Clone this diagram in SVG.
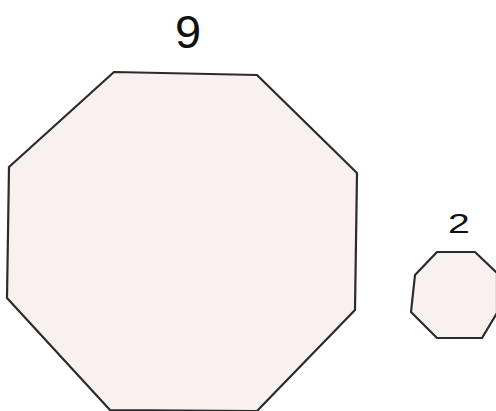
<svg xmlns="http://www.w3.org/2000/svg" width="496" height="411" viewBox="0 0 496 411">
<style>
.oct{fill:#f9f1ef;stroke:#2b2b2b;stroke-width:2.2;stroke-linejoin:round}
.lbl{font-family:"Liberation Sans",Arial,sans-serif;fill:#111;text-anchor:middle}
</style>
<rect width="496" height="411" fill="#ffffff"/>
<g id="big">
<polygon class="oct" points="114,72 257,75 357,173 355,310 257,411 110,410 7,298 9,167"/>
<text class="lbl" x="188" y="48" font-size="47">9</text>
</g>
<g id="small">
<polygon class="oct" points="437,252 475,252 497,273 497,313 482,338 437,338 411,312 415,275"/>
<text class="lbl" transform="translate(459,233) scale(1.4,1)" x="0" y="0" font-size="28">2</text>
</g>
<g id="connectors"/>
</svg>
